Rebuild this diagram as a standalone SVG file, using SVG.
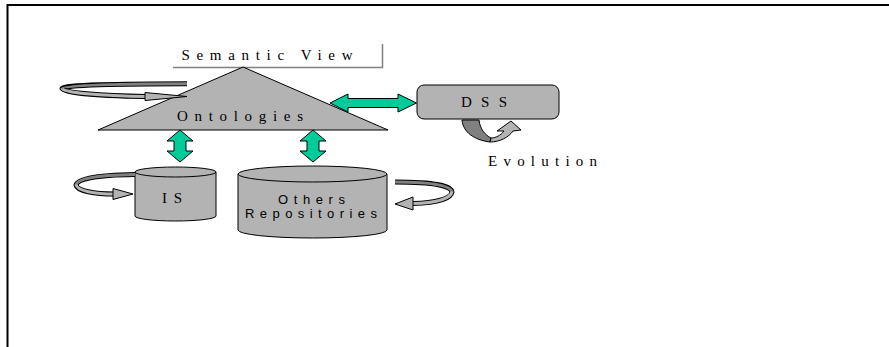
<svg xmlns="http://www.w3.org/2000/svg" width="889" height="347" viewBox="0 0 889 347">
  <style>
    .serif { font-family: "Liberation Serif", "Times New Roman", serif; font-size: 15px; fill: #000; }
    .sans { font-family: "Liberation Sans", Arial, sans-serif; font-size: 13px; fill: #000; }
    .shape { fill: #b3b3b3; stroke: #000; stroke-width: 1; }
    .link { fill: #00cc99; stroke: #000; stroke-width: 1; }
    .bandOut { fill: none; stroke: #000; stroke-width: 5; stroke-linecap: butt; }
    .bandBack { fill: none; stroke: #808080; stroke-width: 3; stroke-linecap: butt; }
    .bandFront { fill: none; stroke: #b3b3b3; stroke-width: 3; stroke-linecap: butt; }
    .head { fill: #b3b3b3; stroke: #000; stroke-width: 1; stroke-linejoin: miter; }
  </style>

  <!-- page frame -->
  <path d="M7.5 347 V5 H889" fill="none" stroke="#000" stroke-width="2"/>

  <!-- title callout -->
  <g id="semantic-view">
    <path d="M173 67.5 H382.5 V44" fill="none" stroke="#808080" stroke-width="1.5"/>
    <text class="serif" x="181.5" y="60" textLength="171" lengthAdjust="spacing">Semantic View</text>
  </g>

  <!-- ontology layer -->
  <g id="ontologies">
    <polygon class="shape" points="98,130 243,67 388,130"/>
    <text class="serif" x="177" y="121" textLength="126" lengthAdjust="spacing">Ontologies</text>
    <!-- self loop -->
    <path class="bandOut" d="M187 83.7 C120 83.7 62 85 62 88.7"/>
    <path class="bandBack" d="M187 83.7 C120 83.7 62 85 62 88.7"/>
    <path class="bandOut" d="M62 88.5 C62 92.5 100 96 146 96.5"/>
    <path class="bandFront" d="M62 88.2 C62 92.5 100 96 147 96.5"/>
    <polygon class="head" points="145,92.5 187,96.5 145,100.5"/>
  </g>

  <!-- decision support system -->
  <g id="dss">
    <rect class="shape" x="417" y="85" width="142" height="34" rx="7"/>
    <text class="serif" x="461" y="107" font-size="16" textLength="46" lengthAdjust="spacing">DSS</text>
    <!-- evolution loop -->
    <path d="M462 120 L479 120 C480 129 485 135 491 138 L490 142 C474 140 463 132 462 120 Z" fill="#808080" stroke="#000" stroke-width="1"/>
    <path class="head" d="M490 142 C500 142 509 137 513 131 L521 130 L511 121 L497 131 L504 131 C501 135 496 138 491 138 Z"/>
    <text class="serif" x="488" y="166" textLength="109" lengthAdjust="spacing">Evolution</text>
  </g>

  <!-- information system -->
  <g id="is">
    <path class="shape" d="M135 172 V216 A40.5 5 0 0 0 216 216 V172 Z"/>
    <ellipse class="shape" cx="175.5" cy="172" rx="40.5" ry="5"/>
    <text class="serif" x="162" y="203" font-size="16" textLength="20" lengthAdjust="spacing">IS</text>
    <!-- self loop -->
    <path class="bandOut" d="M135 174.5 C95 175 76 179 76 185.5"/>
    <path class="bandBack" d="M135 174.5 C95 175 76 179 76 185.5"/>
    <path class="bandOut" d="M76 185 C77 191 95 194 114 194"/>
    <path class="bandFront" d="M76 184.5 C77 191 95 194 115 194"/>
    <polygon class="head" points="113,188.5 133,194 113,199.5"/>
  </g>

  <!-- other repositories -->
  <g id="others">
    <path class="shape" d="M238 174 V230 A74.5 8 0 0 0 387 230 V174 Z"/>
    <ellipse class="shape" cx="312.5" cy="174" rx="74.5" ry="8"/>
    <text class="sans" x="278" y="204" textLength="67" lengthAdjust="spacing">Others</text>
    <text class="sans" x="245" y="217.5" textLength="132" lengthAdjust="spacing">Repositories</text>
    <!-- self loop -->
    <path class="bandOut" d="M395 182 C435 182 452 186 452 192.5"/>
    <path class="bandBack" d="M395 182 C435 182 452 186 452 192.5"/>
    <path class="bandOut" d="M452 192 C451 199 435 203 413 203.5"/>
    <path class="bandFront" d="M452 191.5 C451 199 435 203 412 203.5"/>
    <polygon class="head" points="413,197 395,204 413,210"/>
  </g>

  <!-- links between layers -->
  <g id="connectors">
    <polygon class="link" points="330,103 348,94 348,98.5 398,98.5 398,94 416.5,103 398,112 398,107.5 348,107.5 348,112"/>
    <polygon class="link" points="180,130 167,141 174,141 174,151 167,151 180,162 193,151 186,151 186,141 193,141"/>
    <polygon class="link" points="313,130 300,141 307,141 307,151 300,151 313,162 326,151 319,151 319,141 326,141"/>
  </g>
</svg>
